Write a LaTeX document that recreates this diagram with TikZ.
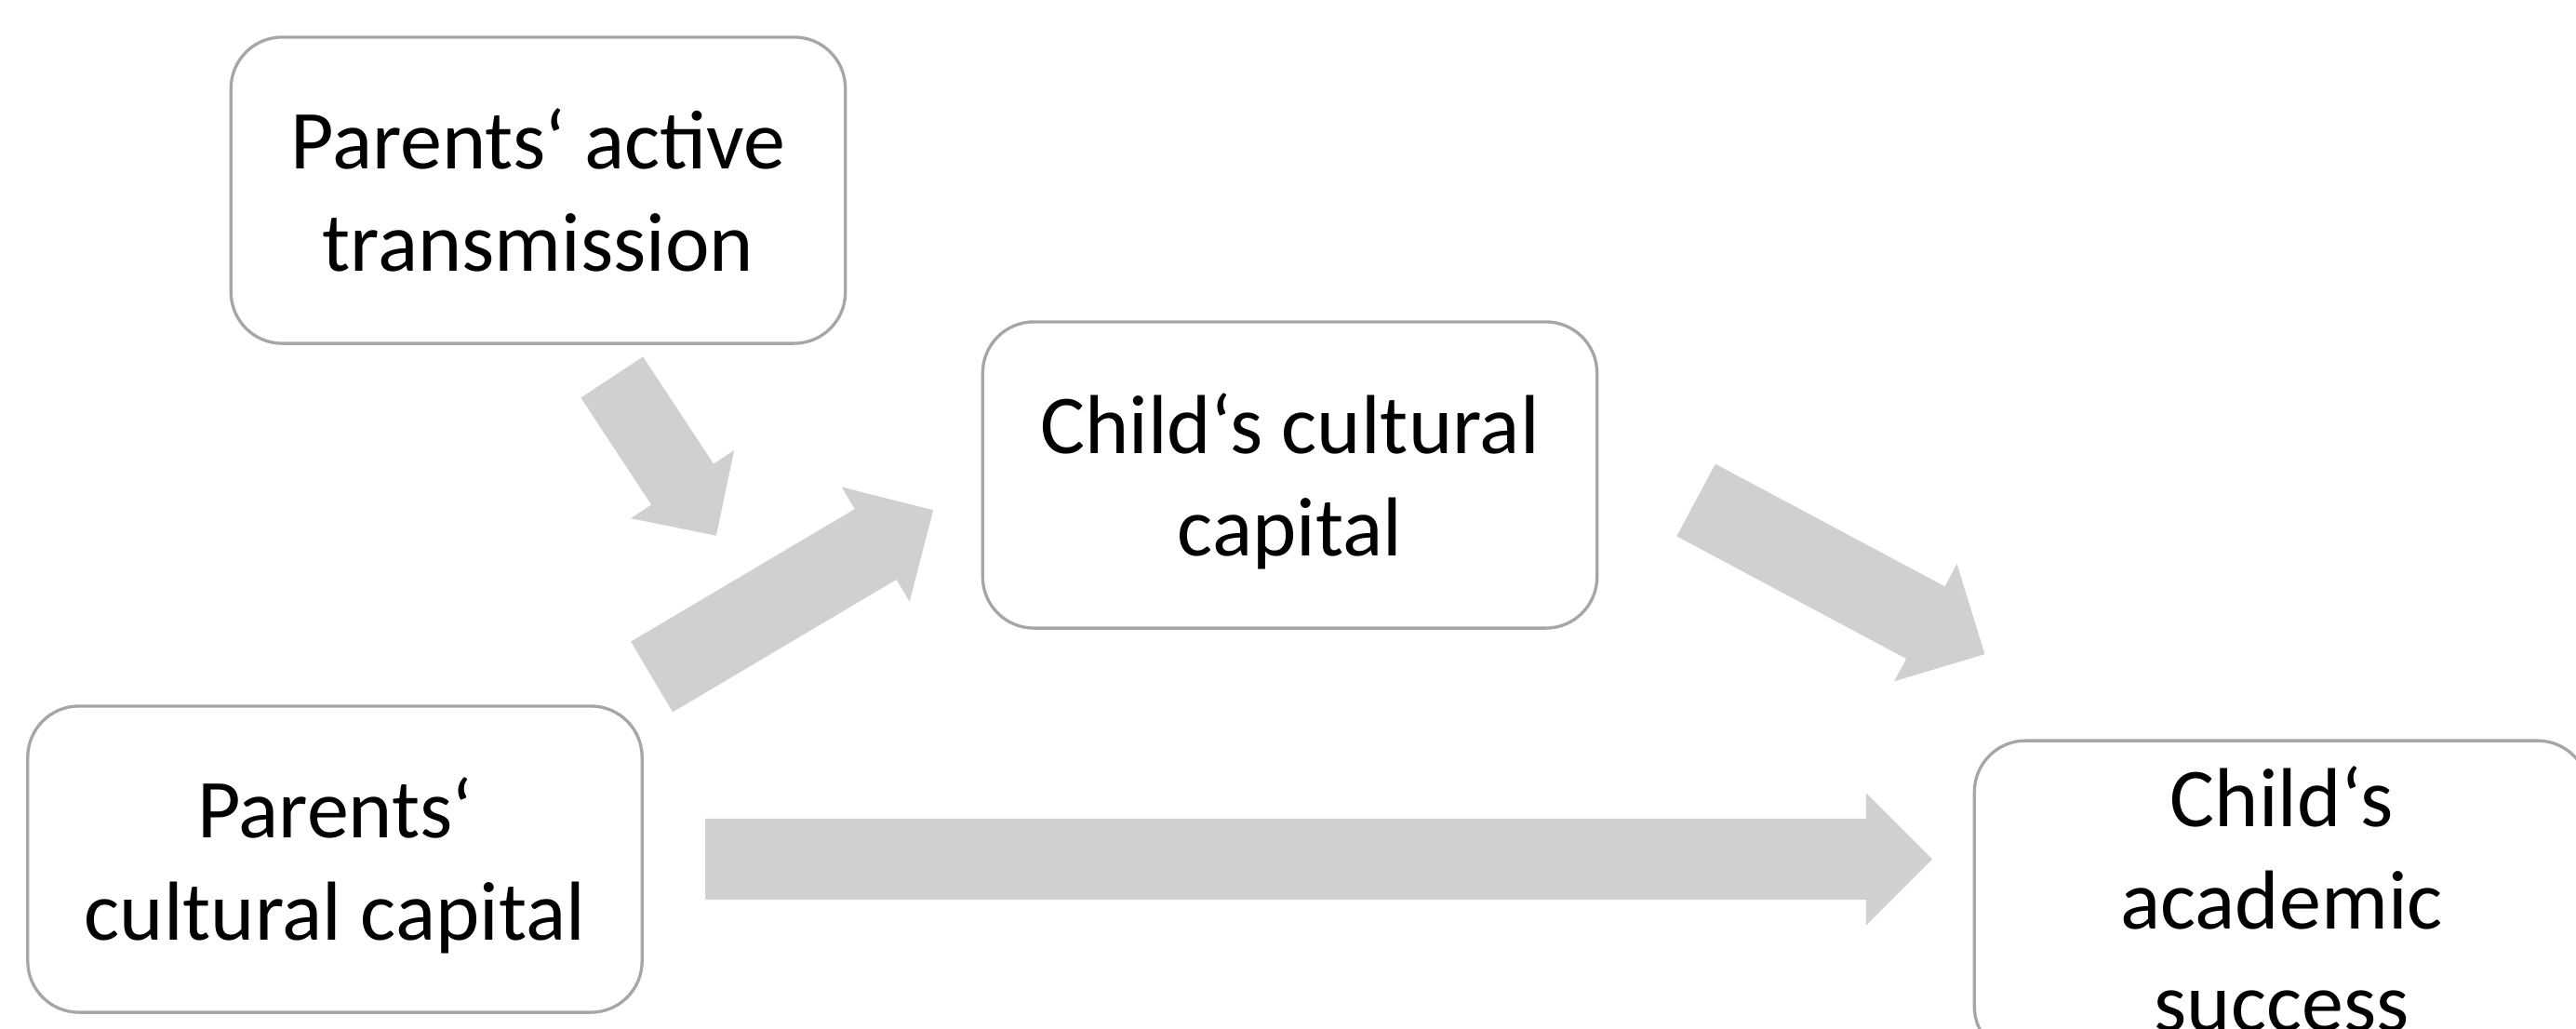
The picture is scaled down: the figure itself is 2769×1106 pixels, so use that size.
\documentclass[tikz,border=0pt]{standalone}
\usepackage{fontspec}
\setmainfont{Carlito}
\usetikzlibrary{calc}
\definecolor{boxline}{RGB}{166,166,166}
\definecolor{arrgray}{RGB}{208,208,208}
\newcommand{\Tstr}{\rule{0pt}{26.3pt}}
\newcommand{\Bstr}{\rule[-8pt]{0pt}{8pt}}
\tikzset{
  box/.style={draw=boxline, line width=0.94pt, fill=white, rounded corners=0.55cm,
    minimum width=6.6cm, minimum height=3.29cm, inner sep=0pt, align=center,
    font=\fontsize{25.6pt}{31.3pt}\selectfont},
  blockfill/.style={fill=arrgray, draw=none}
}
% tail, tip, half shaft width, half head width, head length
\newcommand{\blockarrow}[5]{%
  \path ($(#2)!#5!(#1)$) coordinate (hb);
  \fill[blockfill] ($(#1)!#3!90:(#2)$) -- ($(hb)!#3!90:(#2)$) -- ($(hb)!#4!90:(#2)$) -- (#2)
    -- ($(hb)!#4!-90:(#2)$) -- ($(hb)!#3!-90:(#2)$) -- ($(#1)!#3!-90:(#2)$) -- cycle;
}
\begin{document}
\begin{tikzpicture}[x=0.01cm, y=-0.01cm]
\clip (0,0) rectangle (2769,1106);
\fill[white] (0,0) rectangle (2769,1106);

\node[box] (pat) at (578.5,204.5) {\Tstr Parents‘ active\\transmission\Bstr};
\node[box] (ccc) at (1386.5,510.5) {\Tstr Child‘s cultural\\capital\Bstr};
\node[box] (pcc) at (360,923.5) {\Tstr Parents‘\\cultural capital\Bstr};
\node[box] (cas) at (2452.5,966.5) {\Tstr Child‘s\\academic\\success\Bstr};

\coordinate (a1s) at (657.8,405.5);  \coordinate (a1e) at (769.9,575.7);
\coordinate (a2s) at (700.6,727.5);  \coordinate (a2e) at (1003.2,548.3);
\coordinate (a3s) at (1823.1,537.5); \coordinate (a3e) at (2133.4,703.1);
\coordinate (a4s) at (758,923.5);    \coordinate (a4e) at (2077,923.5);

\blockarrow{a1s}{a1e}{0.40cm}{0.665cm}{0.66cm}
\blockarrow{a2s}{a2e}{0.44cm}{0.715cm}{0.72cm}
\blockarrow{a3s}{a3e}{0.44cm}{0.715cm}{0.72cm}
\blockarrow{a4s}{a4e}{0.435cm}{0.71cm}{0.71cm}
\end{tikzpicture}
\end{document}
